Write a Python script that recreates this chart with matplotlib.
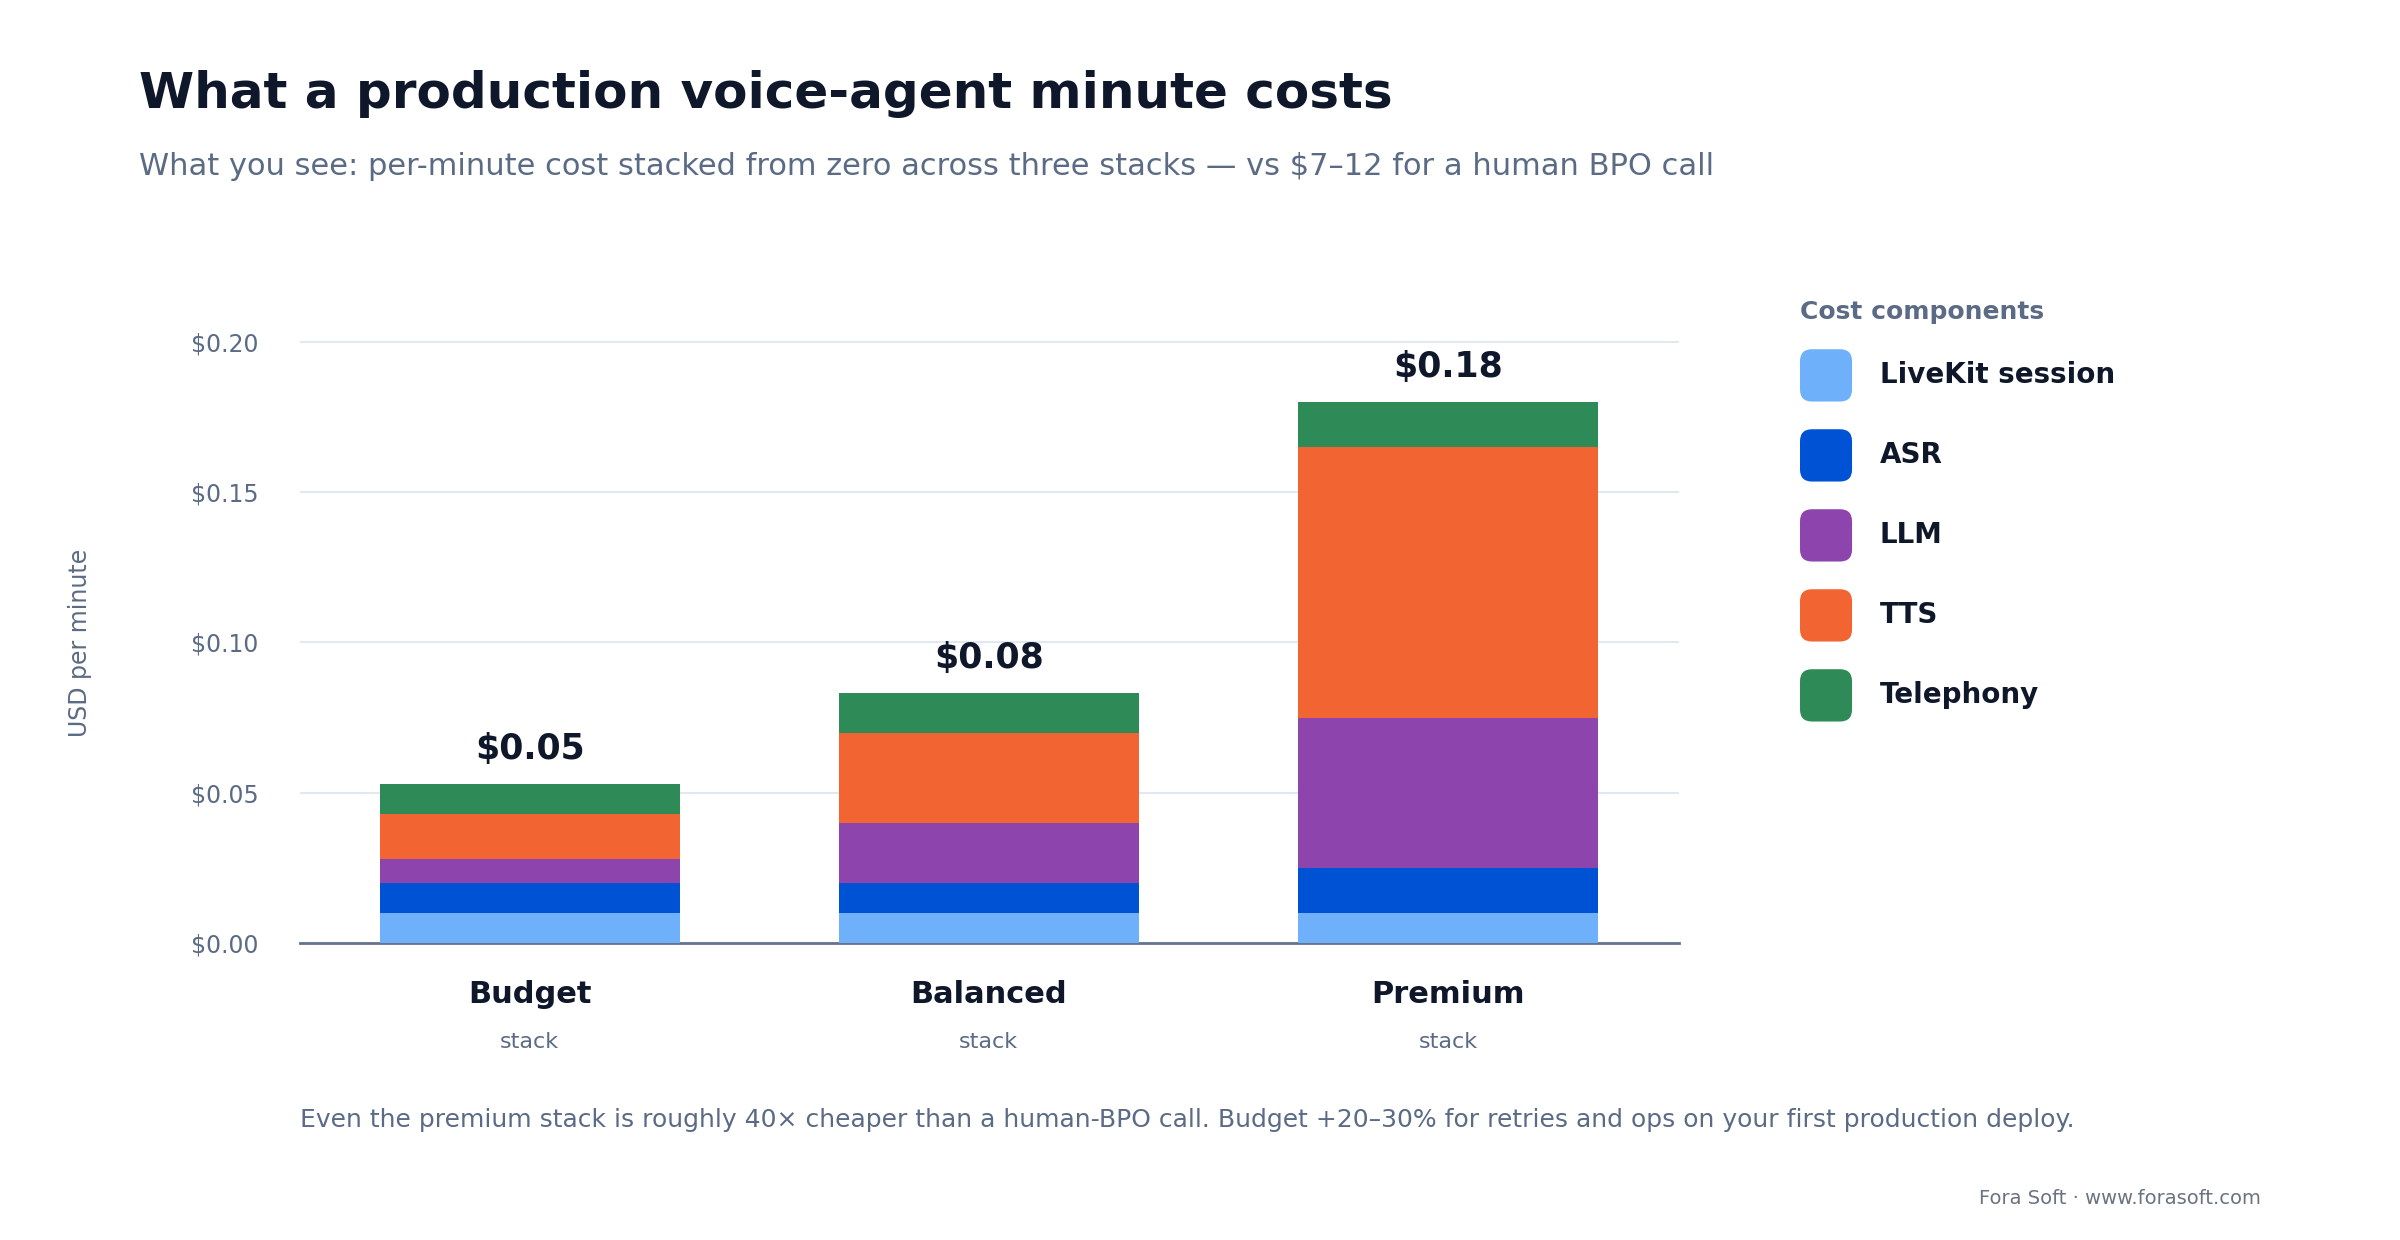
import matplotlib
matplotlib.use("Agg")
import matplotlib.pyplot as plt
from matplotlib.patches import FancyBboxPatch
import numpy as np

stacks = ["Budget", "Balanced", "Premium"]
components = ["LiveKit session", "ASR", "LLM", "TTS", "Telephony"]
livekit = [0.010, 0.010, 0.010]
asr = [0.010, 0.010, 0.015]
llm = [0.008, 0.020, 0.050]
tts = [0.015, 0.030, 0.090]
telephony = [0.010, 0.013, 0.015]
totals_labels = ["$0.05", "$0.08", "$0.18"]
yticks = [0.0, 0.05, 0.10, 0.15, 0.20]
ytick_labels = ["$0.00", "$0.05", "$0.10", "$0.15", "$0.20"]
colors = ["#6EB0FA", "#0052D4", "#8E44AD", "#F26532", "#2E8B57"]

DARK = "#0F172A"; GREY = "#5B6B85"
W, H = 1568, 806
def fx(x): return x / W
def fy(y): return 1 - y / H

fig = plt.figure(figsize=(24, 12.4), dpi=100)
ax = fig.add_axes([fx(196), fy(613), fx(1097) - fx(196), fy(202.5) - fy(613)])
x = np.arange(len(stacks))
bottom = np.zeros(3)
for vals, c in zip([livekit, asr, llm, tts, telephony], colors):
    ax.bar(x, vals, bottom=bottom, width=0.653, color=c, zorder=3)
    bottom += np.array(vals)
for xi, t, lab in zip(x, bottom, totals_labels):
    ax.text(xi, t + 0.006, lab, ha="center", va="bottom", fontsize=25, fontweight="bold", color=DARK)
ax.set_xlim(-0.5, 2.503)
ax.set_ylim(0, 0.21)
ax.set_yticks(yticks)
ax.set_yticklabels(ytick_labels, fontsize=17, color=GREY)
ax.tick_params(axis="y", length=0, pad=30)
ax.set_xticks([])
ax.grid(axis="y", color="#E2E8F0", linewidth=1.5, zorder=0)
for s in ["top", "right", "left"]:
    ax.spines[s].set_visible(False)
ax.spines["bottom"].set_color("#64748B"); ax.spines["bottom"].set_linewidth(2)
for xi, s in zip(x, stacks):
    ax.text(xi, -0.017, s, ha="center", va="center", fontsize=22, fontweight="bold", color=DARK, transform=ax.transData)
    ax.text(xi, -0.033, "stack", ha="center", va="center", fontsize=16, color=GREY)
fig.text(fx(52), fy(418), "USD per minute", rotation=90, ha="center", va="center", fontsize=17, color=GREY)

fig.text(fx(91), fy(61), "What a production voice-agent minute costs", fontsize=36, fontweight="bold", color=DARK, va="center")
fig.text(fx(91), fy(108), "What you see: per-minute cost stacked from zero across three stacks — vs $7–12 for a human BPO call", fontsize=22, color=GREY, va="center")
fig.text(fx(196), fy(728), "Even the premium stack is roughly 40× cheaper than a human-BPO call. Budget +20–30% for retries and ops on your first production deploy.", fontsize=18, color=GREY, va="center")
fig.text(fx(1477), fy(779), "Fora Soft · www.forasoft.com", fontsize=14, color="#6B7280", ha="right", va="center")

fig.text(fx(1176), fy(203), "Cost components", fontsize=18, fontweight="bold", color=GREY, va="center")
for i, (name, c) in enumerate(zip(components, colors)):
    yc = 244 + 52 * i
    p = FancyBboxPatch((fx(1176), fy(yc + 17)), fx(34), fy(0) - fy(34),
                       boxstyle="round,pad=0,rounding_size=0.005", transform=fig.transFigure,
                       facecolor=c, edgecolor="none", mutation_aspect=W / H * H / W * 1.94)
    fig.patches.append(p)
    fig.text(fx(1228), fy(yc), name, fontsize=20, fontweight="bold", color=DARK, va="center")

fig.savefig("out.png", dpi=100)
